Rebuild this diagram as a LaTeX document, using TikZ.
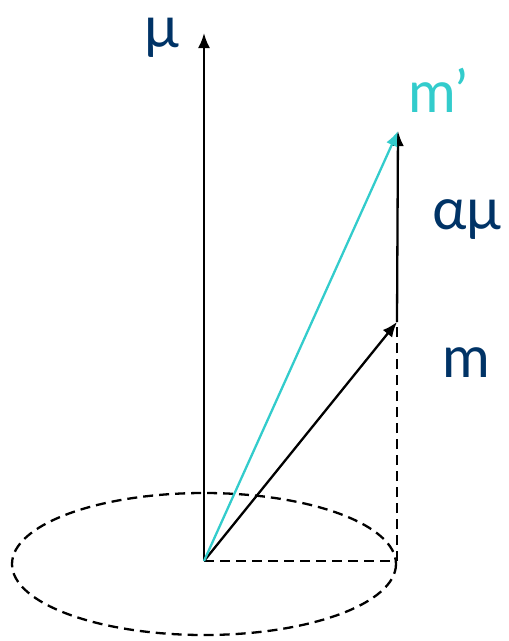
\documentclass[tikz,border=0pt]{standalone}
\usepackage{fontspec}
\setmainfont{Lato}
\usepackage{xcolor}
\usetikzlibrary{arrows.meta, positioning}

\definecolor{labelblue}{RGB}{0,51,102}
\definecolor{primecyan}{RGB}{51,204,204}

\begin{document}
\begin{tikzpicture}[
  x=1pt, y=-1pt,
  vec/.style={-{Latex[length=15pt, width=12pt]}, line width=2.3pt},
  guide/.style={line width=2.3pt, dash pattern=on 10pt off 6pt},
  lbl/.style={font=\fontsize{58}{62}\selectfont, text=labelblue, inner sep=0pt, anchor=base}
]
\useasboundingbox (0,0) rectangle (509,641);

% points of the construction
\coordinate (origin) at (204,561);
\coordinate (mutip) at (204,33);
\coordinate (mtip) at (397,322);
\coordinate (mprime) at (398,131);
\coordinate (foot) at (397,561);

% precession circle and projections
\draw[guide] (204,564) ellipse [x radius=192, y radius=71];
\draw[guide] (origin) -- (foot);
\draw[guide] (foot) -- (mtip);

% vectors
\draw[vec] (origin) -- (mutip);
\draw[vec] (origin) -- (mtip);
\draw[vec] (mtip) -- (mprime);
\draw[vec, draw=primecyan, fill=primecyan] (origin) -- (mprime);

% labels
\node[lbl] (mulabel) at (162,47) {μ};
\node[lbl, text=primecyan] (mprimelabel) at (438,112) {m’};
\node[lbl] (alphamulabel) at (467,229) {αμ};
\node[lbl] (mlabel) at (466,377) {m};
\end{tikzpicture}
\end{document}
